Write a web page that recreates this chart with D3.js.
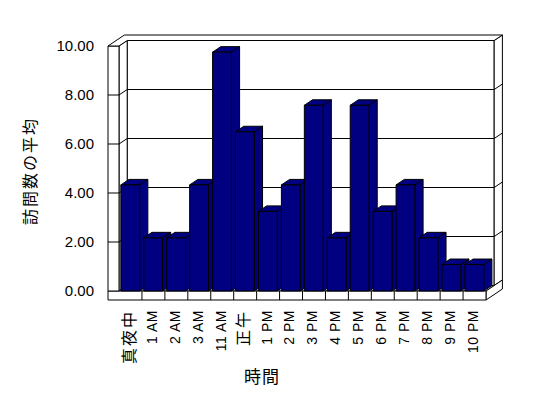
<!DOCTYPE html>
<html>
<head>
<meta charset="utf-8">
<script src="https://d3js.org/d3.v7.min.js"></script>
<style>
    body { margin: 0; background: #fff; }
    svg { display: block; }
    .face { fill: #fff; stroke: #000; stroke-width: 1; }
    .bar { fill: #000080; stroke: #000; stroke-width: 1; stroke-linejoin: round; }
    .grid { fill: none; stroke: #000; stroke-width: 1; }
    text { font-family: "Liberation Sans", Arial, "Noto Sans CJK JP", sans-serif; fill: #000; }
    .cjk { font-family: "Noto Sans CJK JP", sans-serif; fill: #000; }
</style>
</head>
<body>
<div id="chart"></div>
<script>
    const categories = ["真夜中", "1 AM", "2 AM", "3 AM", "11 AM", "正午", "1 PM", "2 PM",
                        "3 PM", "4 PM", "5 PM", "6 PM", "7 PM", "8 PM", "9 PM", "10 PM"];
    const values = [4.33, 2.17, 2.17, 4.33, 9.75, 6.50, 3.25, 4.33,
                    7.58, 2.17, 7.58, 3.25, 4.33, 2.17, 1.08, 1.08];
    const yTicks = [0, 2, 4, 6, 8, 10];
    const yTitle = "訪問数の平均";
    const xTitle = "時間";

    const width = 548, height = 398;
    // front plane of the 3D box
    const wallLeft = 108, plotLeft = 119, plotRight = 486, floorBottom = 300;
    // one step of depth
    const DX = 8.2, DY = 5.5;

    const svg = d3.select("#chart").append("svg")
        .attr("width", width)
        .attr("height", height);

    const x = d3.scaleBand().domain(categories).range([plotLeft, plotRight]).padding(0);
    const y = d3.scaleLinear().domain([0, 10]).range([291, 46]);
    const yMax = d3.max(yTicks);

    const P = (px, py, z) => [px + z * DX, py - z * DY];
    const poly = pts => "M" + pts.map(p => p.join(",")).join("L") + "Z";
    const line = pts => "M" + pts.map(p => p.join(",")).join("L");

    const frame = svg.append("g");

    // back wall (between depth 1 and 2)
    frame.append("path").attr("class", "face")
        .attr("d", poly([P(plotLeft, y(yMax), 1), P(plotRight, y(yMax), 1), P(plotRight, y(0), 1), P(plotLeft, y(0), 1)]));
    frame.append("path").attr("class", "face")
        .attr("d", poly([P(plotRight, y(yMax), 1), P(plotRight, y(yMax), 2), P(plotRight, y(0), 2), P(plotRight, y(0), 1)]));

    // floor
    frame.append("path").attr("class", "face")
        .attr("d", poly([P(plotLeft, y(0), 0), P(plotRight, y(0), 0), P(plotRight, y(0), 1), P(plotLeft, y(0), 1)]));
    frame.append("path").attr("class", "face")
        .attr("d", poly([P(plotRight, y(0), 0), P(plotRight, y(0), 2), P(plotRight, floorBottom, 2), P(plotRight, floorBottom, 0)]));
    frame.append("path").attr("class", "face")
        .attr("d", poly([[wallLeft, y(0)], [plotRight, y(0)], [plotRight, floorBottom], [wallLeft, floorBottom]]));

    // left wall: inner face, front face, and the top of both walls
    frame.append("path").attr("class", "face")
        .attr("d", poly([P(plotLeft, y(yMax), 0), P(plotLeft, y(yMax), 1), P(plotLeft, y(0), 1), P(plotLeft, y(0), 0)]));
    frame.append("path").attr("class", "face")
        .attr("d", poly([[wallLeft, y(yMax)], [plotLeft, y(yMax)], [plotLeft, y(0)], [wallLeft, y(0)]]));
    frame.append("path").attr("class", "face")
        .attr("d", poly([P(wallLeft, y(yMax), 0), P(plotLeft, y(yMax), 0), P(plotLeft, y(yMax), 1),
                         P(plotRight, y(yMax), 1), P(plotRight, y(yMax), 2), P(wallLeft, y(yMax), 2)]));

    // gridlines across left wall, back wall and its side
    frame.selectAll(".grid")
        .data(yTicks.filter(v => v > 0 && v < yMax))
        .enter().append("path")
        .attr("class", "grid")
        .attr("d", v => line([[wallLeft, y(v)], [plotLeft, y(v)], P(plotLeft, y(v), 1),
                              P(plotRight, y(v), 1), P(plotRight, y(v), 2)]));

    // category separators on the floor front
    frame.selectAll(".sep")
        .data(categories.slice(1))
        .enter().append("line")
        .attr("stroke", "#000")
        .attr("x1", d => x(d)).attr("x2", d => x(d))
        .attr("y1", y(0)).attr("y2", floorBottom);

    // bars
    const bw = x.bandwidth();
    const bars = svg.selectAll(".barg")
        .data(categories.map((c, i) => ({ cat: c, value: values[i] })))
        .enter().append("g");

    bars.each(function(d) {
        const g = d3.select(this);
        const x0 = x(d.cat) + bw * 0.08;
        const x1 = x0 + bw * 0.82;
        const yt = y(d.value), yb = y(0);
        g.append("path").attr("class", "bar")
            .attr("d", poly([[x1, yt], P(x1, yt, 1), P(x1, yb, 1), [x1, yb]]));
        g.append("path").attr("class", "bar")
            .attr("d", poly([[x0, yt], [x1, yt], P(x1, yt, 1), P(x0, yt, 1)]));
        g.append("path").attr("class", "bar")
            .attr("d", poly([[x0, yt], [x1, yt], [x1, yb], [x0, yb]]));
    });

    // y axis labels
    const yAxis = svg.append("g")
        .attr("transform", "translate(" + wallLeft + ",0)")
        .call(d3.axisLeft(y).tickValues(yTicks).tickFormat(d3.format(".2f")).tickSize(0).tickPadding(14));
    yAxis.select(".domain").remove();
    yAxis.selectAll("text")
        .attr("fill", "#000")
        .style("font-family", '"Liberation Sans", Arial, sans-serif')
        .style("font-size", "15px");

    // x axis labels
    const isLatin = d => /[A-Z0-9]/.test(d);
    svg.selectAll(".xlab")
        .data(categories)
        .enter().append("text")
        .attr("class", d => isLatin(d) ? "xlab" : "xlab cjk")
        .attr("transform", d => "translate(" + (x(d) + bw / 2 - 1.5) + ",310) rotate(-90)")
        .attr("text-anchor", "end")
        .attr("dy", "0.35em")
        .style("font-size", d => isLatin(d) ? "14px" : "16px")
        .style("letter-spacing", d => isLatin(d) ? "0.5px" : "2px")
        .text(d => d);

    // titles
    svg.append("text")
        .attr("class", "cjk")
        .attr("transform", "translate(30,171) rotate(-90)")
        .attr("text-anchor", "middle")
        .attr("dy", "0.35em")
        .style("font-size", "16px")
        .style("letter-spacing", "2px")
        .text(yTitle);

    svg.append("text")
        .attr("class", "cjk")
        .attr("x", 262)
        .attr("y", 377)
        .attr("text-anchor", "middle")
        .attr("dy", "0.35em")
        .style("font-size", "17px")
        .style("letter-spacing", "1px")
        .text(xTitle);
</script>
</body>
</html>
